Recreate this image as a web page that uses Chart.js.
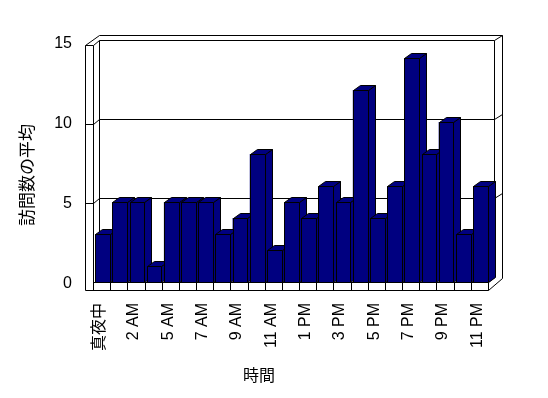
<!DOCTYPE html>
<html>
<head>
<meta charset="utf-8">
<script src="https://cdn.jsdelivr.net/npm/chart.js@4.4.0/dist/chart.umd.min.js"></script>
<style>
body { margin: 0; background: #fff; }
</style>
</head>
<body>
<canvas id="chart" width="548" height="398"></canvas>
<script>
// hours of the day (3 AM missing in the source), only every other one is labelled
const hours = ['真夜中', '1 AM', '2 AM', '4 AM', '5 AM', '6 AM', '7 AM', '8 AM', '9 AM', '10 AM', '11 AM', '正午',
    '1 PM', '2 PM', '3 PM', '4 PM', '5 PM', '6 PM', '7 PM', '8 PM', '9 PM', '10 PM', '11 PM'];
const visits = [3, 5, 5, 1, 5, 5, 5, 3, 4, 8, 2, 5, 4, 6, 5, 12, 4, 6, 14, 8, 10, 3, 6];
const yTicks = [0, 5, 10, 15];
const yTitle = '訪問数の平均';
const xTitle = '時間';

const NAVY = '#000080';
const DX = 7, DY = -5;   // bar depth
const FONT = '"Liberation Sans", "Noto Sans CJK JP", sans-serif';
const CJK = '"Noto Sans CJK JP", sans-serif';

function backY(chart, v) {
    let a = chart.chartArea;
    return (a.bottom - 4.7) - (a.bottom - chart.scales.y.getPixelForValue(v)) * 0.989;
}

function line(ctx, pts) {
    ctx.beginPath();
    ctx.moveTo(Math.round(pts[0][0]) + 0.5, Math.round(pts[0][1]) + 0.5);
    for (let i = 1; i < pts.length; i++) {
        ctx.lineTo(Math.round(pts[i][0]) + 0.5, Math.round(pts[i][1]) + 0.5);
    }
    ctx.stroke();
}

function poly(ctx, pts) {
    ctx.beginPath();
    ctx.moveTo(pts[0][0] + 0.5, pts[0][1] + 0.5);
    for (let i = 1; i < pts.length; i++) ctx.lineTo(pts[i][0] + 0.5, pts[i][1] + 0.5);
    ctx.closePath();
    ctx.fill();
    ctx.stroke();
}

const box3d = {
    id: 'box3d',
    beforeDatasetsDraw(chart) {
        const ctx = chart.ctx;
        const a = chart.chartArea;
        const L = a.left, R = a.right, B = a.bottom;
        const topB = backY(chart, 15);
        const botB = backY(chart, 0);
        const FB = B + 8;

        ctx.save();
        ctx.strokeStyle = '#000';
        ctx.lineWidth = 1;

        // back wall
        line(ctx, [[L + 5, botB], [L + 5, topB], [R + 5, topB], [R + 5, botB]]);
        line(ctx, [[L + 5, topB - 5], [R + 13, topB - 5], [R + 13, FB - 12]]);
        line(ctx, [[R + 5, topB], [R + 13, topB - 5]]);

        // left wall
        line(ctx, [[L - 9, FB], [L - 9, topB + 5], [L - 1, topB + 5], [L - 1, FB]]);
        line(ctx, [[L - 9, topB + 5], [L + 5, topB - 5]]);
        line(ctx, [[L - 1, topB + 5], [L + 5, topB]]);

        // grid lines
        for (const v of yTicks) {
            if (v <= 0 || v >= 15) continue;
            let by = backY(chart, v);
            line(ctx, [[L - 9, by + 5], [L - 1, by + 5], [L + 5, by], [R + 5, by], [R + 13, by - 5]]);
        }

        // floor
        line(ctx, [[L + 5, botB], [R + 5, botB]]);
        line(ctx, [[L - 9, FB], [R - 1, FB], [R + 13, FB - 12]]);
        line(ctx, [[L - 1, B], [R - 1, B], [R + 5, botB]]);
        let step = (R - L) / hours.length;
        for (let k = 0; k <= hours.length; k++) {
            let x = L - 1 + k * step;
            line(ctx, [[x, B], [x, FB]]);
        }
        ctx.restore();
    },
    afterDatasetsDraw(chart) {
        const ctx = chart.ctx;
        const meta = chart.getDatasetMeta(0);
        ctx.save();
        ctx.fillStyle = NAVY;
        ctx.strokeStyle = '#000';
        ctx.lineWidth = 1;
        for (const bar of meta.data) {
            let p = bar.getProps(['x', 'y', 'base', 'width'], true);
            let x0 = Math.round(p.x - p.width / 2);
            let x1 = Math.round(p.x + p.width / 2);
            let t = Math.round(p.y);
            let b = Math.round(p.base);
            poly(ctx, [[x0, t], [x1, t], [x1, b], [x0, b]]);
            poly(ctx, [[x1, t], [x1 + DX, t + DY], [x1 + DX, b + DY], [x1, b]]);
            poly(ctx, [[x0, t], [x0 + DX, t + DY], [x1 + DX, t + DY], [x1, t]]);
        }
        ctx.restore();
    },
    afterDraw(chart) {
        const ctx = chart.ctx;
        ctx.save();
        ctx.fillStyle = '#000';
        ctx.textAlign = 'center';
        ctx.textBaseline = 'middle';
        ctx.font = '17px ' + CJK;
        ctx.translate(27, 175);
        ctx.rotate(-Math.PI / 2);
        ctx.fillText(yTitle, 0, 0);
        ctx.restore();

        ctx.save();
        ctx.fillStyle = '#000';
        ctx.textAlign = 'center';
        ctx.textBaseline = 'middle';
        ctx.font = '16px ' + CJK;
        ctx.fillText(xTitle, 259, 375);
        ctx.restore();
    }
};

new Chart(document.getElementById('chart'), {
    type: 'bar',
    data: {
        labels: hours,
        datasets: [{
            data: visits,
            backgroundColor: NAVY,
            borderWidth: 0,
            barPercentage: 0.86,
            categoryPercentage: 1
        }]
    },
    options: {
        responsive: false,
        animation: false,
        layout: { padding: { top: 42, right: 59, bottom: 0, left: 0 } },
        plugins: { legend: { display: false }, tooltip: { enabled: false } },
        scales: {
            x: {
                grid: { display: false, drawTicks: false },
                border: { display: false },
                afterFit: s => { s.height = 116; },
                ticks: {
                    autoSkip: false,
                    minRotation: 90,
                    maxRotation: 90,
                    padding: 21,
                    labelOffset: -3,
                    color: '#000',
                    font: { family: FONT, size: 16 },
                    callback: (v, i) => i % 2 == 0 ? hours[i] : ''
                }
            },
            y: {
                min: 0,
                max: 15,
                grid: { display: false, drawTicks: false },
                border: { display: false },
                afterFit: s => { s.width = 94; },
                afterBuildTicks: s => { s.ticks = yTicks.map(v => ({ value: v })); },
                ticks: {
                    padding: 22,
                    labelOffset: 1.5,
                    color: '#000',
                    font: { family: FONT, size: 16 }
                }
            }
        }
    },
    plugins: [box3d]
});
</script>
</body>
</html>
